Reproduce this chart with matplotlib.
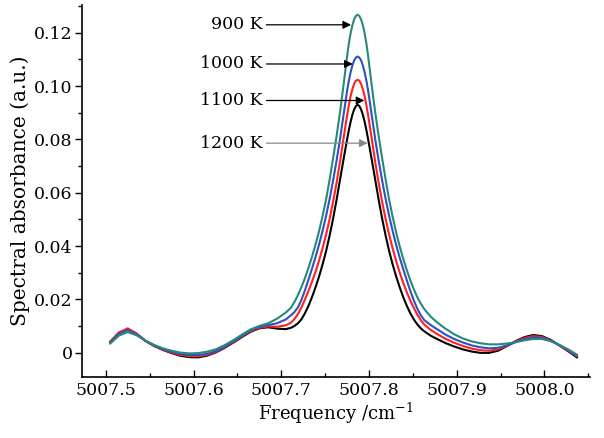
import matplotlib
matplotlib.use('Agg')
import matplotlib.pyplot as plt
from matplotlib.ticker import MultipleLocator, FuncFormatter

plt.rcParams['font.family'] = 'DejaVu Serif'
plt.rcParams['mathtext.fontset'] = 'dejavuserif'

# frequency grid (cm-1)
freq = [
    5007.505, 5007.515, 5007.525, 5007.535, 5007.545, 5007.555, 5007.565, 5007.575, 5007.585, 5007.595,
    5007.605, 5007.615, 5007.625, 5007.635, 5007.645, 5007.655, 5007.665, 5007.675, 5007.685, 5007.695,
    5007.705,
    5007.711, 5007.715, 5007.719, 5007.723, 5007.727, 5007.731, 5007.735, 5007.739, 5007.743, 5007.747,
    5007.751, 5007.755, 5007.759, 5007.763, 5007.767, 5007.771, 5007.775,
    5007.777, 5007.779, 5007.781, 5007.783, 5007.785, 5007.787, 5007.789, 5007.791, 5007.793, 5007.795,
    5007.797,
    5007.799, 5007.803, 5007.807, 5007.811, 5007.815, 5007.819, 5007.823, 5007.827,
    5007.831, 5007.835, 5007.839, 5007.843, 5007.847, 5007.851, 5007.855, 5007.859, 5007.863,
    5007.870, 5007.877, 5007.887, 5007.897, 5007.907, 5007.917, 5007.927, 5007.937, 5007.947, 5007.957,
    5007.967, 5007.977, 5007.987, 5007.997, 5008.007, 5008.017, 5008.027, 5008.037,
]

abs_900 = [
    .0034, .0064, .0077, .0065, .0045, .0029, .0016, .0007, .0000, -.0003,
    -.0002, .0003, .0012, .0027, .0046, .0067, .0087, .0100, .0110, .0127,
    .0150,
    .0168, .0190, .0216, .0246, .0280, .0318, .0360, .0405, .0455, .0512,
    .0573, .0648, .0728, .0812, .0903, .1005, .1112,
    .1160, .1198, .1228, .1250, .1263, .1268, .1263, .1250, .1228, .1198,
    .1160,
    .1112, .1005, .0903, .0812, .0728, .0648, .0573, .0508,
    .0450, .0398, .0352, .0310, .0272, .0238, .0208, .0184, .0163,
    .0136, .0115, .0090, .0069, .0053, .0042, .0035, .0031, .0031, .0034,
    .0039, .0046, .0051, .0051, .0043, .0029, .0012, -.0008,
]

abs_1000 = [
    .0038, .0071, .0085, .0069, .0045, .0027, .0013, .0003, -.0005, -.0009,
    -.0009, -.0005, .0005, .0021, .0041, .0062, .0083, .0096, .0103, .0110,
    .0124,
    .0140, .0152, .0170, .0198, .0234, .0274, .0315, .0358, .0405, .0456,
    .0512, .0575, .0645, .0720, .0802, .0893, .0982,
    .1020, .1052, .1077, .1096, .1107, .1111, .1107, .1096, .1077, .1052,
    .1020,
    .0982, .0893, .0802, .0720, .0645, .0575, .0512, .0455,
    .0403, .0356, .0313, .0272, .0232, .0196, .0165, .0140, .0122,
    .0104, .0089, .0068, .0051, .0038, .0027, .0020, .0016, .0018, .0027,
    .0039, .0051, .0057, .0055, .0045, .0028, .0009, -.0012,
]

abs_1100 = [
    .0042, .0076, .0091, .0072, .0045, .0025, .0011, .0000, -.0009, -.0013,
    -.0014, -.0009, .0002, .0019, .0039, .0060, .0080, .0093, .0098, .0097,
    .0102,
    .0112, .0126, .0145, .0170, .0200, .0232, .0266, .0303, .0345, .0391,
    .0442, .0500, .0565, .0637, .0717, .0805, .0890,
    .0928, .0962, .0988, .1008, .1020, .1024, .1020, .1008, .0988, .0962,
    .0928,
    .0890, .0805, .0717, .0637, .0565, .0500, .0442, .0390,
    .0343, .0300, .0262, .0227, .0196, .0168, .0143, .0122, .0105,
    .0086, .0071, .0052, .0037, .0025, .0015, .0009, .0007, .0012, .0025,
    .0041, .0055, .0062, .0059, .0046, .0027, .0007, -.0014,
]

abs_1200 = [
    .0040, .0074, .0088, .0070, .0044, .0025, .0010, -.0002, -.0012, -.0017,
    -.0018, -.0012, .0000, .0017, .0037, .0058, .0078, .0091, .0095, .0090,
    .0088,
    .0093, .0100, .0110, .0125, .0148, .0176, .0208, .0245, .0285, .0330,
    .0380, .0438, .0502, .0573, .0650, .0726, .0800,
    .0835, .0866, .0892, .0912, .0925, .0930, .0925, .0912, .0892, .0866,
    .0835,
    .0800, .0726, .0650, .0573, .0502, .0438, .0380, .0330,
    .0285, .0245, .0208, .0176, .0148, .0125, .0106, .0091, .0080,
    .0064, .0052, .0036, .0023, .0012, .0004, -.0001, -.0001, .0007, .0024,
    .0043, .0058, .0066, .0062, .0048, .0027, .0005, -.0018,
]

labels = ['1200 K', '1100 K', '1000 K', '900 K']
colors = ['black', '#ff2020', '#3050c0', '#25897f']

fig = plt.figure(figsize=(6.04, 4.38), dpi=100)
ax = fig.add_axes([0.136, 0.139, 0.841, 0.85])

for ys, c in zip([abs_1200, abs_1100, abs_1000, abs_900], colors):
    ax.plot(freq, ys, color=c, lw=1.5)

# labels with arrows pointing at the peaks
label_y = [0.0786, 0.0946, 0.1083, 0.1230]
tip_x = [5007.7984, 5007.7947, 5007.7814, 5007.7795]
arrow_col = ['#888888', 'black', 'black', 'black']
for lab, y, tx, ac in zip(labels, label_y, tip_x, arrow_col):
    ax.text(5007.679, y, lab, ha='right', va='center', fontsize=12.5)
    ax.annotate('', xy=(tx, y), xytext=(5007.683, y),
                arrowprops=dict(arrowstyle='-|>', color=ac, lw=0.9,
                                mutation_scale=12, shrinkA=0, shrinkB=0))

ax.set_xlim(5007.473, 5008.052)
ax.set_ylim(-0.0092, 0.1305)

ax.xaxis.set_major_locator(MultipleLocator(0.1))
ax.xaxis.set_minor_locator(MultipleLocator(0.05))
ax.yaxis.set_major_locator(MultipleLocator(0.02))
ax.yaxis.set_minor_locator(MultipleLocator(0.01))
ax.xaxis.set_major_formatter(FuncFormatter(lambda v, p: '%.1f' % v))
ax.yaxis.set_major_formatter(FuncFormatter(lambda v, p: '0' if abs(v) < 1e-9 else '%.2f' % v))

ax.tick_params(axis='x', which='major', labelsize=12.5, length=5, width=1, direction='in')
ax.tick_params(axis='x', which='minor', length=3, width=1, direction='in')
ax.tick_params(axis='y', which='major', labelsize=12.5, length=5, width=1, direction='out', pad=2)
ax.tick_params(axis='y', which='minor', length=3, width=1, direction='out')

for s in ['top', 'right']:
    ax.spines[s].set_visible(False)
for s in ['left', 'bottom']:
    ax.spines[s].set_linewidth(1.2)

ax.set_xlabel('Frequency /cm$^{-1}$', fontsize=13, labelpad=1)
ax.set_ylabel('Spectral absorbance (a.u.)', fontsize=14.5, labelpad=3)

fig.savefig('out.png', dpi=100)
